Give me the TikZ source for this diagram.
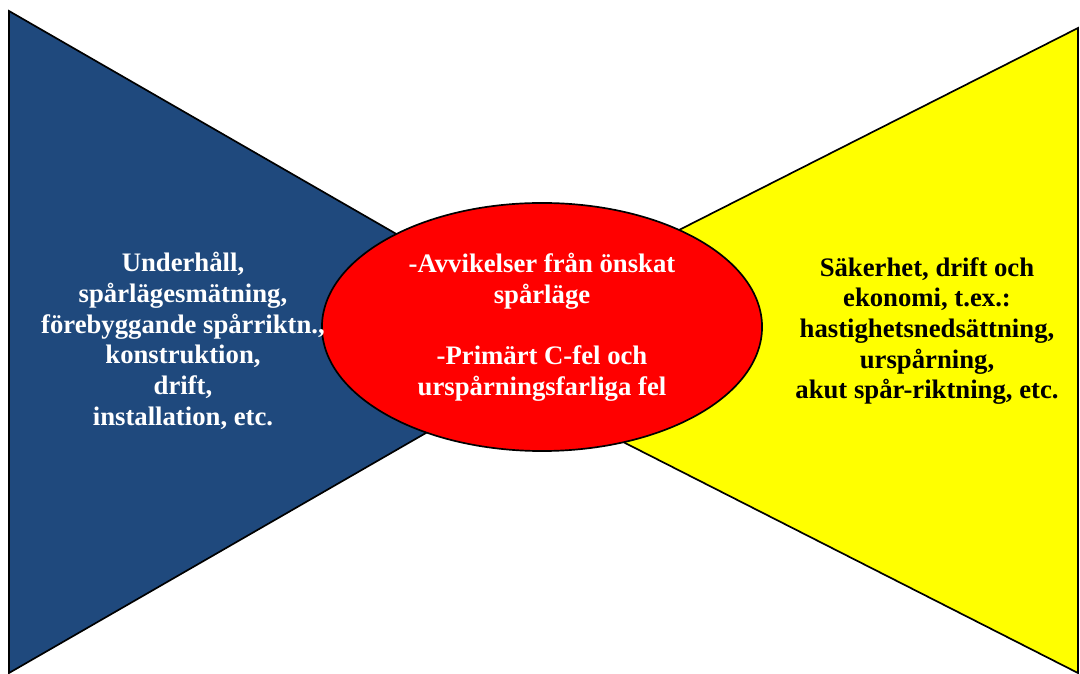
\documentclass[tikz,border=0pt]{standalone}
\usepackage{fontspec}
\setmainfont{Liberation Serif}
\usepackage{tikz}
\usetikzlibrary{shapes.geometric}
\definecolor{wingblue}{RGB}{31,73,125}
\definecolor{wingyellow}{RGB}{255,255,0}
\definecolor{corered}{RGB}{255,0,0}
\tikzset{
  wing/.style={draw=black, line width=1.2pt, line join=miter},
  core/.style={draw=black, line width=1.2pt, ellipse, fill=corered, text=white,
               minimum width=11cm, minimum height=6.2cm, inner sep=0pt},
  txt/.style={align=center, font=\fontsize{19}{21.8}\selectfont\bfseries, inner sep=0pt}
}

\begin{document}
\begin{tikzpicture}[x=0.025cm, y=-0.025cm]
\useasboundingbox (0,0) rectangle (1080,674);
% left and right wings
\coordinate (ltop) at (9,11);
\coordinate (lbot) at (9,673);
\coordinate (ltip) at (584,342);
\coordinate (rtop) at (1078,28);
\coordinate (rbot) at (1078,673);
\coordinate (rtip) at (442,350);
\filldraw[wing, fill=wingblue] (ltop) -- (ltip) -- (lbot) -- cycle;
\filldraw[wing, fill=wingyellow] (rtop) -- (rtip) -- (rbot) -- cycle;
% centre
\node[core] (dev) at (542,327) {};
\node[txt, text=white] (devtxt) at (dev.center) {-Avvikelser från önskat\\ spårläge\\[21.8pt] -Primärt C-fel och\\ urspårningsfarliga fel};
\node[txt, text=white] (cause) at (183,341) {Underhåll,\\ spårlägesmätning,\\ förebyggande spårriktn.,\\ konstruktion,\\ drift,\\ installation, etc.};
\node[txt, text=black] (effect) at (927,331) {Säkerhet, drift och\\ ekonomi, t.ex.:\\ hastighetsnedsättning,\\ urspårning,\\ akut spår-riktning, etc.};
\end{tikzpicture}
\end{document}
